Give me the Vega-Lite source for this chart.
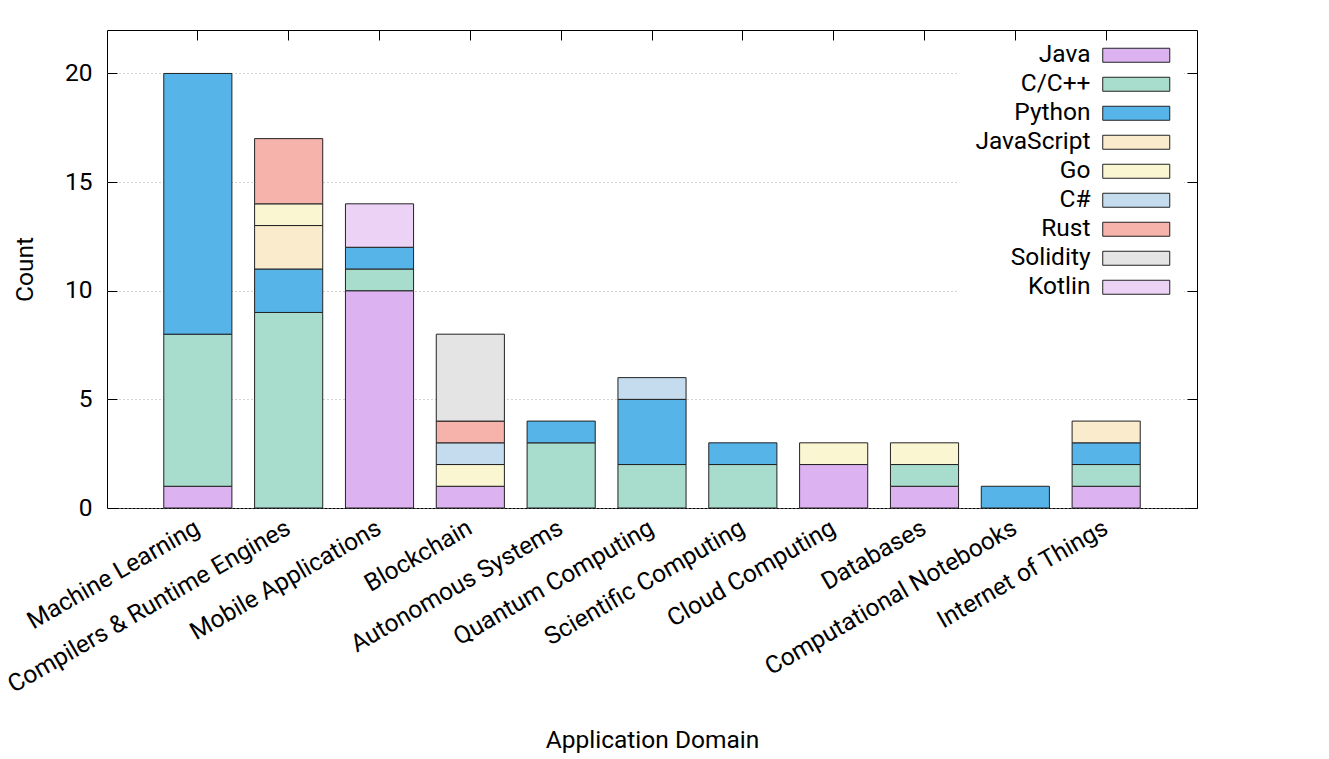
{
  "$schema": "https://vega.github.io/schema/vega-lite/v6.json",
  "width": 1090,
  "height": 478,
  "autosize": "none",
  "padding": {"left": 107, "top": 30, "right": 132, "bottom": 251},
  "background": "white",
  "config": {
    "font": "Roboto",
    "view": {"stroke": "#000", "strokeWidth": 1},
    "axis": {
      "labelFont": "Roboto", "labelFontSize": 24.5, "labelColor": "#000",
      "titleFont": "Roboto", "titleFontSize": 24.5, "titleFontWeight": "normal", "titleColor": "#000",
      "domain": false, "tickColor": "#000", "tickWidth": 1
    }
  },
  "data": {"values": [
    {"domain": "Machine Learning", "lang": "Java", "rank": 1, "count": 1},
    {"domain": "Machine Learning", "lang": "C/C++", "rank": 2, "count": 7},
    {"domain": "Machine Learning", "lang": "Python", "rank": 3, "count": 12},
    {"domain": "Compilers & Runtime Engines", "lang": "C/C++", "rank": 2, "count": 9},
    {"domain": "Compilers & Runtime Engines", "lang": "Python", "rank": 3, "count": 2},
    {"domain": "Compilers & Runtime Engines", "lang": "JavaScript", "rank": 4, "count": 2},
    {"domain": "Compilers & Runtime Engines", "lang": "Go", "rank": 5, "count": 1},
    {"domain": "Compilers & Runtime Engines", "lang": "Rust", "rank": 7, "count": 3},
    {"domain": "Mobile Applications", "lang": "Java", "rank": 1, "count": 10},
    {"domain": "Mobile Applications", "lang": "C/C++", "rank": 2, "count": 1},
    {"domain": "Mobile Applications", "lang": "Python", "rank": 3, "count": 1},
    {"domain": "Mobile Applications", "lang": "Kotlin", "rank": 9, "count": 2},
    {"domain": "Blockchain", "lang": "Java", "rank": 1, "count": 1},
    {"domain": "Blockchain", "lang": "Go", "rank": 5, "count": 1},
    {"domain": "Blockchain", "lang": "C#", "rank": 6, "count": 1},
    {"domain": "Blockchain", "lang": "Rust", "rank": 7, "count": 1},
    {"domain": "Blockchain", "lang": "Solidity", "rank": 8, "count": 4},
    {"domain": "Autonomous Systems", "lang": "C/C++", "rank": 2, "count": 3},
    {"domain": "Autonomous Systems", "lang": "Python", "rank": 3, "count": 1},
    {"domain": "Quantum Computing", "lang": "C/C++", "rank": 2, "count": 2},
    {"domain": "Quantum Computing", "lang": "Python", "rank": 3, "count": 3},
    {"domain": "Quantum Computing", "lang": "C#", "rank": 6, "count": 1},
    {"domain": "Scientific Computing", "lang": "C/C++", "rank": 2, "count": 2},
    {"domain": "Scientific Computing", "lang": "Python", "rank": 3, "count": 1},
    {"domain": "Cloud Computing", "lang": "Java", "rank": 1, "count": 2},
    {"domain": "Cloud Computing", "lang": "Go", "rank": 5, "count": 1},
    {"domain": "Databases", "lang": "Java", "rank": 1, "count": 1},
    {"domain": "Databases", "lang": "C/C++", "rank": 2, "count": 1},
    {"domain": "Databases", "lang": "Go", "rank": 5, "count": 1},
    {"domain": "Computational Notebooks", "lang": "Python", "rank": 3, "count": 1},
    {"domain": "Internet of Things", "lang": "Java", "rank": 1, "count": 1},
    {"domain": "Internet of Things", "lang": "C/C++", "rank": 2, "count": 1},
    {"domain": "Internet of Things", "lang": "Python", "rank": 3, "count": 1},
    {"domain": "Internet of Things", "lang": "JavaScript", "rank": 4, "count": 1}
  ]},
  "layer": [
    {
      "mark": {"type": "bar", "stroke": "#222", "strokeWidth": 1, "opacity": 1},
      "encoding": {
        "x": {
          "field": "domain", "type": "nominal", "sort": null,
          "scale": {"paddingInner": 0.25, "paddingOuter": 0.625},
          "axis": {
            "orient": "bottom", "title": "Application Domain",
            "labelAngle": -30, "labelAlign": "right", "labelBaseline": "middle",
            "labelPadding": 18, "ticks": false, "titlePadding": 32, "labelLimit": 0
          }
        },
        "y": {
          "field": "count", "type": "quantitative", "stack": "zero",
          "scale": {"domain": [0, 22], "nice": false},
          "axis": {
            "orient": "left", "title": "Count", "values": [0, 5, 10, 15, 20],
            "tickSize": -10, "labelPadding": 25, "grid": true,
            "gridColor": "#a8a8a8", "gridDash": [1, 3], "titlePadding": 27
          }
        },
        "color": {
          "field": "lang", "type": "nominal",
          "scale": {
            "domain": ["Java", "C/C++", "Python", "JavaScript", "Go", "C#", "Rust", "Solidity", "Kotlin"],
            "range": ["#dcb2f0", "#a8ddcd", "#56b4e9", "#f9ebcc", "#fbf6d2", "#c4dcee", "#f6b3ac", "#e4e4e4", "#ecd3f5"]
          },
          "legend": {
            "title": null, "orient": "none", "legendX": 851, "legendY": 1,
            "padding": 12, "fillColor": "white", "strokeColor": null,
            "symbolType": "M-4.786,-1L4.786,-1L4.786,1L-4.786,1Z", "symbolSize": 196,
            "symbolStrokeColor": "#222", "symbolStrokeWidth": 1, "symbolOpacity": 1,
            "symbolOffset": 154,
            "labelAlign": "right", "labelOffset": -58, "labelFontSize": 24.5,
            "labelFont": "Roboto", "labelColor": "#000", "rowPadding": 4, "labelLimit": 0
          }
        },
        "order": {"field": "rank", "type": "quantitative"}
      }
    },
    {
      "mark": {"type": "point", "opacity": 0},
      "encoding": {
        "x": {
          "field": "domain", "type": "nominal", "sort": null,
          "axis": {"orient": "top", "labels": false, "title": null, "tickSize": -10, "grid": false, "zindex": 2}
        },
        "y": {
          "field": "count", "type": "quantitative",
          "axis": {"orient": "right", "labels": false, "title": null, "values": [0, 5, 10, 15, 20], "tickSize": -10, "grid": false, "zindex": 2}
        }
      }
    }
  ],
  "resolve": {"axis": {"x": "independent", "y": "independent"}}
}
